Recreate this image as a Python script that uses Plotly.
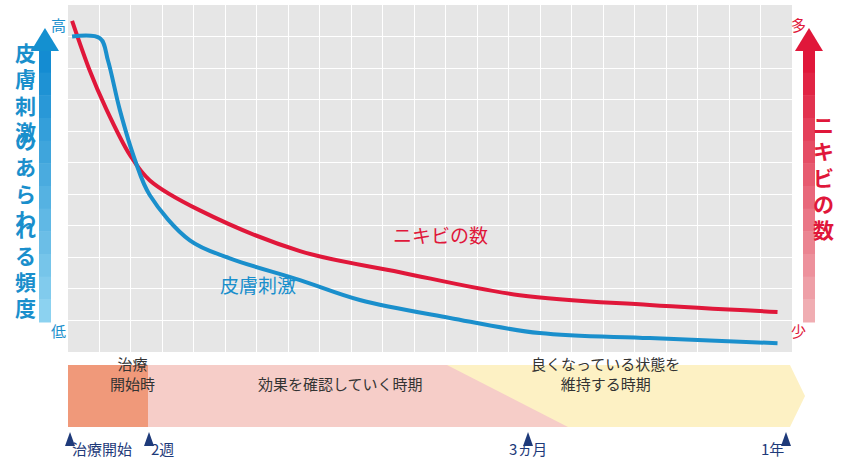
import plotly.graph_objects as go

red_x = [0.13, 0.7, 1.17, 1.97, 2.6, 4.19, 7.37, 10.54, 14.35, 18.48, 22.54]
red_y = [10.5, 8.9, 7.8, 6.24, 5.44, 4.49, 3.2, 2.53, 1.8, 1.49, 1.27]
blue_x = [0.13, 1.02, 1.27, 1.65, 2.13, 2.6, 3.87, 5.14, 7.37, 9.27, 12.13, 14.98, 18.48, 22.54]
blue_y = [10.0, 9.94, 9.24, 7.66, 6.08, 4.97, 3.54, 2.97, 2.28, 1.65, 1.08, 0.6, 0.44, 0.28]
milestones = ["治療開始", "2週", "3ヵ月", "1年"]
milestone_px = [70, 149, 528, 786]
phases = ["治療<br>開始時", "効果を確認していく時期", "良くなっている状態を<br>維持する時期"]
left_label = "皮膚刺激のあらわれる頻度"
right_label = "ニキビの数"

RED = "#e0173a"; BLUE = "#1a8fcc"; NAVY = "#1e3a7a"
W, H = 850, 471
L, R, T, B = 68, 792, 5, 352
def px(x): return (x - L) / (R - L)
def py(y): return (B - y) / (B - T)
def path(pts):
    return "M " + " L ".join(f"{px(a):.4f},{py(b):.4f}" for a, b in pts) + " Z"

fig = go.Figure()
fig.add_trace(go.Scatter(x=red_x, y=red_y, mode="lines", line=dict(color=RED, width=4, shape="spline"), hoverinfo="skip"))
fig.add_trace(go.Scatter(x=blue_x, y=blue_y, mode="lines", line=dict(color=BLUE, width=4, shape="spline"), hoverinfo="skip"))

shapes = []
shapes.append(dict(type="path", xref="paper", yref="paper", path=path([(148,365),(790,365),(805,396),(790,427),(148,427)]), fillcolor="#fdf1c4", line_width=0, layer="above"))
shapes.append(dict(type="path", xref="paper", yref="paper", path=path([(148,365),(447,365),(568,427),(148,427)]), fillcolor="#f6cdc8", line_width=0, layer="above"))
shapes.append(dict(type="rect", xref="paper", yref="paper", x0=px(68), x1=px(148), y0=py(427), y1=py(365), fillcolor="#f0997a", line_width=0, layer="above"))
for m in milestone_px:
    shapes.append(dict(type="path", xref="paper", yref="paper", path=path([(m-5,446),(m+5,446),(m,432)]), fillcolor=NAVY, line_width=0))
segs = 12
for i in range(segs):
    y0 = 50 + i * (322 - 50) / segs; y1 = 50 + (i + 1) * (322 - 50) / segs + 0.5
    t = i / (segs - 1)
    c = (int(20 + t * 120), int(140 + t * 70), int(210 + t * 30))
    shapes.append(dict(type="rect", xref="paper", yref="paper", x0=px(39), x1=px(51), y0=py(y1), y1=py(y0), fillcolor=f"rgb{c}", line_width=0))
shapes.append(dict(type="path", xref="paper", yref="paper", path=path([(31,51),(59,51),(45,28)]), fillcolor="#1490d0", line_width=0))
for i in range(segs):
    y0 = 50 + i * (322 - 50) / segs; y1 = 50 + (i + 1) * (322 - 50) / segs + 0.5
    t = i / (segs - 1)
    c = (int(224 + t * 16), int(23 + t * 150), int(58 + t * 120))
    shapes.append(dict(type="rect", xref="paper", yref="paper", x0=px(803), x1=px(815), y0=py(y1), y1=py(y0), fillcolor=f"rgb{c}", line_width=0))
shapes.append(dict(type="path", xref="paper", yref="paper", path=path([(795,51),(823,51),(809,28)]), fillcolor=RED, line_width=0))

ann = []
def A(x, y, text, color, size, **kw):
    ann.append(dict(xref="paper", yref="paper", x=px(x), y=py(y), text=text, showarrow=False, font=dict(color=color, size=size), **kw))
A(49, 12, "高", BLUE, 15); A(49, 343, "低", BLUE, 15)
A(808, 12, "多", RED, 15); A(808, 343, "少", RED, 15)
for i, ch in enumerate(left_label):
    A(13, 35 + i * 26.3, f"<b>{ch}</b>", BLUE, 21)
for i, ch in enumerate(right_label):
    A(836, 124 + i * 26.3, f"<b>{ch}</b>", RED, 21)
A(440, 250, "ニキビの数", RED, 19)
A(218, 300, "皮膚刺激", BLUE, 19)
A(108, 396, phases[0], "#333", 15)
A(340, 396, phases[1], "#333", 15)
A(682, 396, phases[2], "#333", 15)
for m, lab in zip(milestone_px, milestones):
    A(m, 461, lab, NAVY, 15)

fig.update_layout(
    width=W, height=H, margin=dict(l=L, r=W - R, t=T, b=H - B),
    paper_bgcolor="white", plot_bgcolor="#e6e6e6", showlegend=False,
    font=dict(family="Noto Sans CJK JP"),
    xaxis=dict(range=[0, 23], dtick=1, tick0=0, showticklabels=False, gridcolor="white", gridwidth=1, zeroline=False, fixedrange=True),
    yaxis=dict(range=[0, 11], dtick=1, tick0=0, showticklabels=False, gridcolor="white", gridwidth=1, zeroline=False, fixedrange=True),
    shapes=shapes, annotations=ann,
)
fig.write_html("out.html", post_script="document.body.style.margin='0';", config={"displayModeBar": False})
